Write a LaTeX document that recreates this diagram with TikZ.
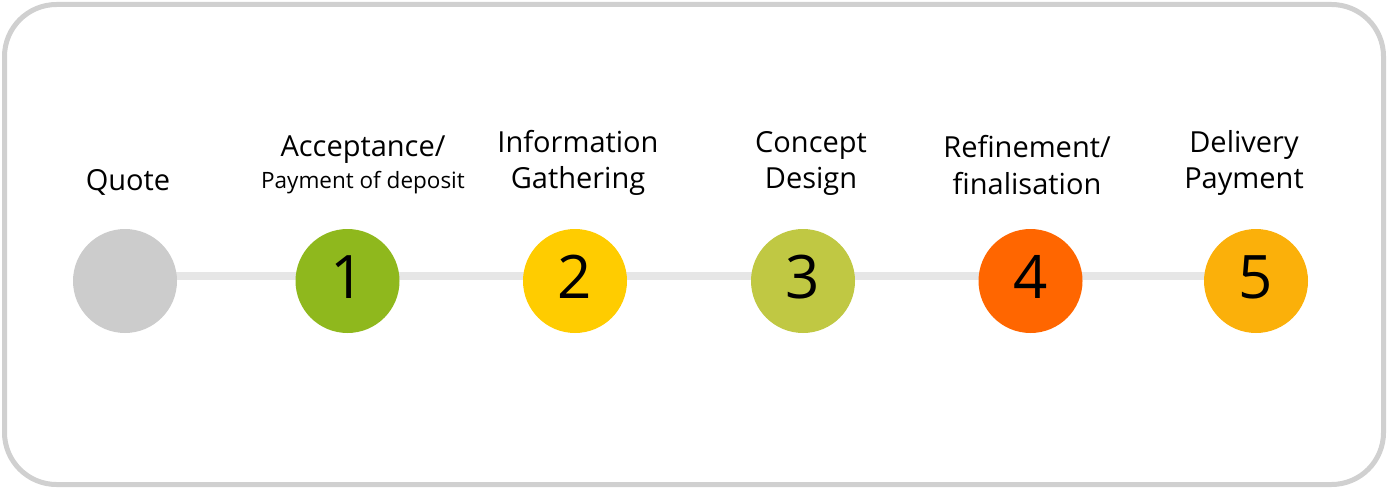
\documentclass[tikz,border=0pt]{standalone}
\usepackage{fontspec}
\setmainfont{Open Sans}
\usetikzlibrary{backgrounds}
\definecolor{framegray}{HTML}{D0D0D0}
\definecolor{linegray}{HTML}{E6E6E6}
\definecolor{cq}{HTML}{CCCCCC}
\definecolor{c1}{HTML}{8FB81D}
\definecolor{c2}{HTML}{FFCC00}
\definecolor{c3}{HTML}{C0C843}
\definecolor{c4}{HTML}{FF6600}
\definecolor{c5}{HTML}{FBB00A}
\begin{document}
\begin{tikzpicture}[x=1pt,y=-1pt,
  stage/.style={circle,minimum size=104pt,inner sep=0pt,fill=#1},
  num/.style={anchor=base,font=\fontsize{60}{60}\selectfont},
  lbl/.style={anchor=base,font=\fontsize{29}{29}\selectfont},
  sml/.style={anchor=base,font=\fontsize{22.5}{22.5}\selectfont},
  link/.style={draw=linegray,line width=8pt}]
\useasboundingbox (0,0) rectangle (1388,489);
\draw[framegray,line width=5pt,rounded corners=52pt] (4.5,4.5) rectangle (1383.5,484.5);
\node[stage=cq] (n0) at (125,281) {};
\node[stage=c1] (n1) at (347.5,281) {};
\node[stage=c2] (n2) at (575,281) {};
\node[stage=c3] (n3) at (803,281) {};
\node[stage=c4] (n4) at (1030.5,281) {};
\node[stage=c5] (n5) at (1256,281) {};
\begin{scope}[on background layer]
\foreach \a/\b in {n0/n1,n1/n2,n2/n3,n3/n4,n4/n5}
  \draw[link] ([yshift=5pt]\a.center) -- ([yshift=5pt]\b.center);
\end{scope}
\node[num] (t1) at (347.5,298) {1};
\node[num] (t2) at (575,298) {2};
\node[num] (t3) at (803,298) {3};
\node[num] (t4) at (1030.5,298) {4};
\node[num] (t5) at (1256,298) {5};
\node[lbl] (l0) at (128,190) {Quote};
\node[lbl] (l1a) at (363,157) {Acceptance/};
\node[sml] (l1b) at (363,189) {Payment of deposit};
\node[lbl] (l2a) at (578,153) {Information};
\node[lbl] (l2b) at (578,189) {Gathering};
\node[lbl] (l3a) at (811,153) {Concept};
\node[lbl] (l3b) at (811,189) {Design};
\node[lbl] (l4a) at (1027,158) {Refinement/};
\node[lbl] (l4b) at (1027,194) {finalisation};
\node[lbl] (l5a) at (1244,153) {Delivery};
\node[lbl] (l5b) at (1244,189) {Payment};
\end{tikzpicture}
\end{document}
